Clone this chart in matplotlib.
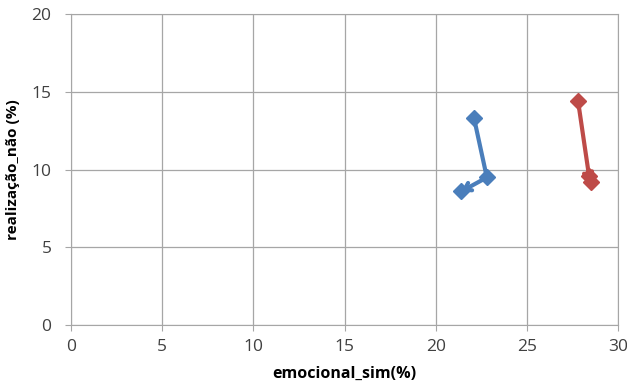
import matplotlib.pyplot as plt
import numpy as np

# emocional_sim (%) vs realizacao_nao (%) for two groups, three points each
blue_x = [22.1, 22.8, 21.4]
blue_y = [13.3, 9.5, 8.6]
red_x = [27.8, 28.4, 28.5]
red_y = [14.4, 9.6, 9.2]

x_ticks = [0, 5, 10, 15, 20, 25, 30]
y_ticks = [0, 5, 10, 15, 20]

plt.rcParams['font.family'] = ['Open Sans', 'DejaVu Sans']

fig = plt.figure(figsize=(6.27, 3.83), dpi=100)
ax = fig.add_axes([0.113, 0.151, 0.873, 0.812])

def draw_path(xs, ys, color):
    # line through the points, arrow on the last segment
    ax.plot(xs[:-1], ys[:-1], color=color, lw=3, solid_capstyle='round', zorder=3)
    ax.annotate('', xy=(xs[-1], ys[-1]), xytext=(xs[-2], ys[-2]),
                arrowprops=dict(arrowstyle='->,head_length=0.45,head_width=0.3',
                                color=color, lw=3, shrinkA=0, shrinkB=0), zorder=3)
    ax.plot(xs, ys, ls='none', marker='D', ms=8, color=color, zorder=4)

draw_path(blue_x, blue_y, '#4A7EBB')
draw_path(red_x, red_y, '#BE4B48')

ax.set_xlim(0, 30)
ax.set_ylim(0, 20)
ax.set_xticks(x_ticks)
ax.set_yticks(y_ticks)
ax.grid(True, color='#A6A6A6', lw=0.9)
ax.set_axisbelow(True)
for s in ax.spines.values():
    s.set_color('#A6A6A6')
ax.tick_params(colors='#A6A6A6', labelcolor='#404040', labelsize=12.5, length=4)
ax.tick_params(axis='x', pad=6)
ax.tick_params(axis='y', pad=10)

ax.set_xlabel('emocional_sim(%)', fontsize=11.5, fontweight='bold', labelpad=8)
ax.set_ylabel('realização_não (%)', fontsize=11, fontweight='bold', labelpad=8)

fig.savefig('out.png', dpi=100)
